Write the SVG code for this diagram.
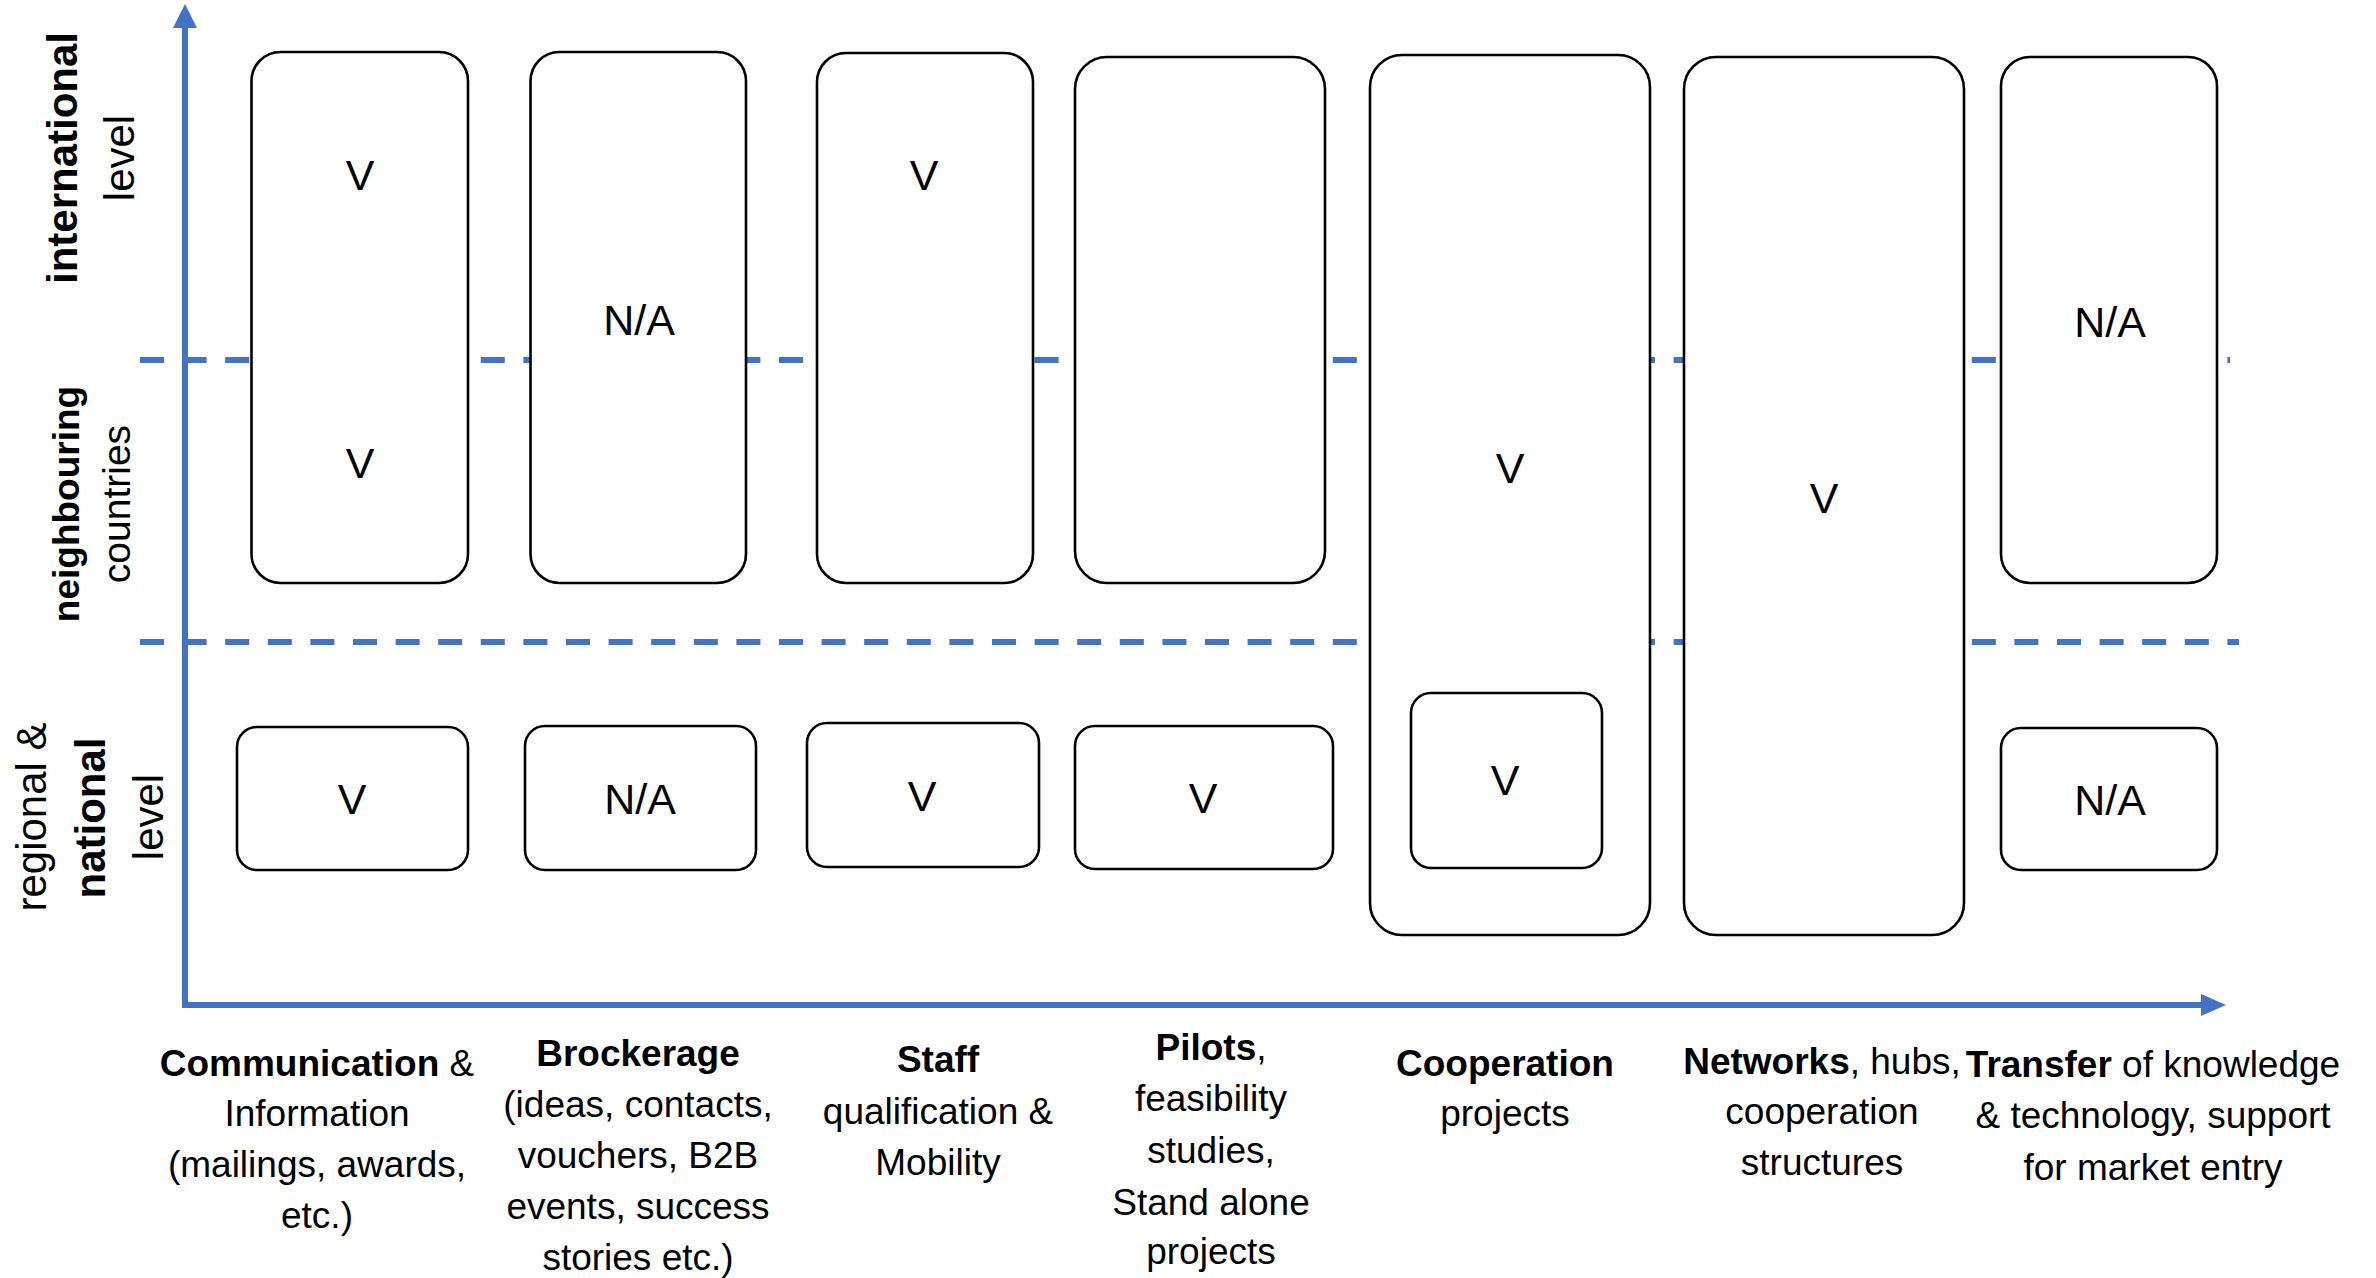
<svg xmlns="http://www.w3.org/2000/svg" width="2376" height="1278" viewBox="0 0 2376 1278">
<defs>
<style>
.box{fill:#ffffff;stroke:#000000;stroke-width:2.6}
.axis{stroke:#4472C4;stroke-width:6;fill:none}
.dash{stroke:#4472C4;stroke-width:6;stroke-dasharray:24 18.6;fill:none}
.head{fill:#4472C4}
.val{font-family:"Liberation Sans",Arial,sans-serif;font-size:43px;fill:#000;text-anchor:middle}
.lab{font-family:"Liberation Sans",Arial,sans-serif;font-size:37px;fill:#000;text-anchor:middle}
.side{font-family:"Liberation Sans",Arial,sans-serif;font-size:42px;fill:#000;text-anchor:middle}
.b{font-weight:bold}
</style>
</defs>
<rect x="0" y="0" width="2376" height="1278" fill="#ffffff"/>
<g id="level-dividers">
<line class="dash" x1="140" y1="360" x2="2230" y2="360"/>
<line class="dash" x1="140" y1="642" x2="2239" y2="642"/>
</g>
<g id="connectors">
<polyline class="axis" points="185,24 185,1005 2204,1005"/>
<polygon class="head" points="185,4 173,28 197,28"/>
<polygon class="head" points="2226,1005 2201,994 2201,1016"/>
</g>
<g id="axis-labels-y">
<text class="side b" transform="translate(77,158) rotate(-90)">international</text>
<text class="side" transform="translate(134,158) rotate(-90)">level</text>
<text class="side b" style="font-size:37px" transform="translate(79,504) rotate(-90)">neighbouring</text>
<text class="side" style="font-size:39px" transform="translate(130,504) rotate(-90)">countries</text>
<text class="side" transform="translate(46,817) rotate(-90)">regional &amp;</text>
<text class="side b" transform="translate(105,818) rotate(-90)">national</text>
<text class="side" transform="translate(163,817) rotate(-90)">level</text>
</g>
<g id="node-communication-top">
<rect class="box" x="251.5" y="52" width="216.5" height="531" rx="29"/>
<text class="val" x="360" y="190">V</text>
<text class="val" x="360" y="478">V</text>
</g>
<g id="node-brockerage-top">
<rect class="box" x="530.5" y="52" width="215.5" height="531" rx="29"/>
<text class="val" x="639" y="335">N/A</text>
</g>
<g id="node-staff-top">
<rect class="box" x="817" y="53" width="216" height="530" rx="29"/>
<text class="val" x="924" y="190">V</text>
</g>
<g id="node-pilots-top">
<rect class="box" x="1075" y="57" width="250" height="526" rx="32"/>
</g>
<g id="node-cooperation">
<rect class="box" x="1370" y="55" width="280" height="880" rx="32"/>
<text class="val" x="1510" y="483">V</text>
</g>
<g id="node-cooperation-regional">
<rect class="box" x="1411" y="693" width="191" height="175" rx="20"/>
<text class="val" x="1505" y="795">V</text>
</g>
<g id="node-networks">
<rect class="box" x="1684" y="57" width="280" height="878" rx="32"/>
<text class="val" x="1824" y="513">V</text>
</g>
<g id="node-transfer-top">
<rect class="box" x="2001" y="57" width="216" height="526" rx="29"/>
<text class="val" x="2110" y="337">N/A</text>
</g>
<g id="node-communication-regional">
<rect class="box" x="237" y="727" width="231" height="143" rx="20"/>
<text class="val" x="352" y="814">V</text>
</g>
<g id="node-brockerage-regional">
<rect class="box" x="525" y="726" width="231" height="144" rx="20"/>
<text class="val" x="640" y="814">N/A</text>
</g>
<g id="node-staff-regional">
<rect class="box" x="807" y="723" width="232" height="144" rx="20"/>
<text class="val" x="922" y="811">V</text>
</g>
<g id="node-pilots-regional">
<rect class="box" x="1075" y="726" width="258" height="143" rx="20"/>
<text class="val" x="1203" y="813">V</text>
</g>
<g id="node-transfer-regional">
<rect class="box" x="2001" y="728" width="216" height="142" rx="20"/>
<text class="val" x="2110" y="815">N/A</text>
</g>
<g id="axis-labels-x">
<text class="lab" x="317" y="1076"><tspan class="b">Communication</tspan> &amp;</text>
<text class="lab" x="317" y="1126">Information</text>
<text class="lab" x="317" y="1177">(mailings, awards,</text>
<text class="lab" x="317" y="1228">etc.)</text>
<text class="lab b" x="638" y="1066">Brockerage</text>
<text class="lab" x="638" y="1117">(ideas, contacts,</text>
<text class="lab" x="638" y="1168">vouchers, B2B</text>
<text class="lab" x="638" y="1219">events, success</text>
<text class="lab" x="638" y="1270">stories etc.)</text>
<text class="lab b" x="938" y="1072">Staff</text>
<text class="lab" x="938" y="1124">qualification &amp;</text>
<text class="lab" x="938" y="1175">Mobility</text>
<text class="lab" x="1211" y="1060"><tspan class="b">Pilots</tspan>,</text>
<text class="lab" x="1211" y="1111">feasibility</text>
<text class="lab" x="1211" y="1163">studies,</text>
<text class="lab" x="1211" y="1215">Stand alone</text>
<text class="lab" x="1211" y="1264">projects</text>
<text class="lab b" x="1505" y="1076">Cooperation</text>
<text class="lab" x="1505" y="1126">projects</text>
<text class="lab" x="1822" y="1074"><tspan class="b">Networks</tspan>, hubs,</text>
<text class="lab" x="1822" y="1124">cooperation</text>
<text class="lab" x="1822" y="1175">structures</text>
<text class="lab" x="2153" y="1077"><tspan class="b">Transfer</tspan> of knowledge</text>
<text class="lab" x="2153" y="1128">&amp; technology, support</text>
<text class="lab" x="2153" y="1180">for market entry</text>
</g>
</svg>
